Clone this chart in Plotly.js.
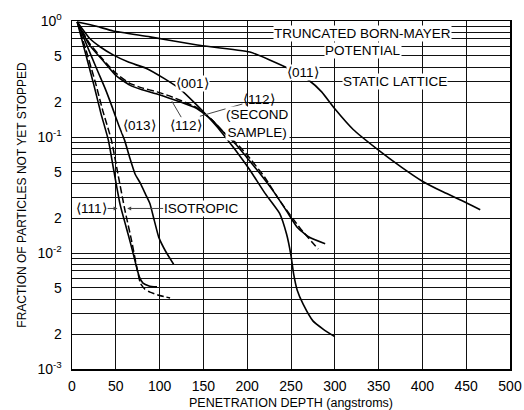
<!DOCTYPE html>
<html>
<head>
<meta charset="utf-8">
<script src="https://cdn.plot.ly/plotly-3.0.1.min.js"></script>
<style>html,body{margin:0;padding:0;background:#fff;}#chart{width:524px;height:410px;}</style>
</head>
<body>
<div id="chart"></div>
<script>
// <011>
var x011 = [6, 28, 47, 89, 143, 203, 247, 270, 285, 300, 321, 348, 376, 399, 424, 449, 466];
var y011 = [0.98, 0.9, 0.82, 0.73, 0.62, 0.54, 0.39, 0.31, 0.245, 0.175, 0.116, 0.079, 0.055, 0.042, 0.0335, 0.0274, 0.0236];
// <001>
var x001 = [6, 20, 32, 47, 65, 85, 105, 123, 142, 155, 169, 185, 203, 220, 237, 245, 250, 253, 257, 264, 275, 287, 300];
var y001 = [0.98, 0.71, 0.6, 0.51, 0.44, 0.39, 0.32, 0.26, 0.19, 0.15, 0.114, 0.08, 0.052, 0.033, 0.022, 0.0145, 0.0095, 0.0066, 0.0048, 0.0036, 0.0026, 0.0022, 0.0019];
// <112>
var x112 = [6, 20, 36, 50, 66, 80, 97, 112, 142, 160, 173, 188, 200, 215, 230, 245, 257, 270, 289];
var y112 = [0.98, 0.62, 0.45, 0.34, 0.28, 0.255, 0.235, 0.215, 0.177, 0.14, 0.11, 0.085, 0.066, 0.048, 0.034, 0.023, 0.0167, 0.0138, 0.012];
// <112> second sample
var x112b = [6, 20, 36, 50, 66, 80, 97, 112, 142, 160, 173, 188, 200, 220, 237, 260, 281];
var y112b = [0.98, 0.64, 0.46, 0.355, 0.29, 0.265, 0.245, 0.225, 0.18, 0.14, 0.11, 0.088, 0.07, 0.045, 0.0284, 0.0165, 0.0108];
// <013>
var x013 = [6, 14, 22, 30, 38, 46, 53, 60, 66, 72, 78, 84, 89, 94, 99, 107, 116];
var y013 = [0.98, 0.7, 0.5, 0.36, 0.26, 0.18, 0.128, 0.094, 0.066, 0.048, 0.04, 0.032, 0.0266, 0.019, 0.0137, 0.0103, 0.008];
// <111>
var x111 = [6, 15, 25, 33, 41.5, 48, 55, 64, 70, 74, 77, 81, 88, 97];
var y111 = [0.98, 0.54, 0.28, 0.16, 0.094, 0.05, 0.026, 0.0146, 0.0098, 0.0074, 0.0062, 0.0055, 0.0052, 0.0051];
// isotropic
var xIso = [6, 16, 27, 35, 45, 52, 60.5, 68, 74, 78, 83, 89, 100, 112];
var yIso = [0.98, 0.56, 0.29, 0.17, 0.094, 0.05, 0.0232, 0.0128, 0.0075, 0.0055, 0.0049, 0.0046, 0.0043, 0.0041];

var xTicks = [0, 50, 100, 150, 200, 250, 300, 350, 400, 450, 500];
var decades = [-3, -2, -1];
var mantissas = [1, 2, 3, 4, 5, 6, 7, 8, 9];
var supText = {"-3": "10<sup>-3</sup>", "-2": "10<sup>-2</sup>", "-1": "10<sup>-1</sup>", "0": "10<sup>0</sup>"};

var yTickVals = [], yTickText = [];
decades.forEach(function (d) {
  mantissas.forEach(function (m) {
    yTickVals.push(m * Math.pow(10, d));
    yTickText.push(m === 1 ? supText[String(d)] : (m === 2 || m === 5 ? String(m) : ""));
  });
});
yTickVals.push(1); yTickText.push(supText["0"]);

var FONT = "Liberation Sans, Arial, sans-serif";
function solid(x, y) {
  return {x: x, y: y, mode: "lines", type: "scatter", line: {color: "#000", width: 1.6, shape: "spline", smoothing: 0.45}, hoverinfo: "skip"};
}
function dashed(x, y) {
  return {x: x, y: y, mode: "lines", type: "scatter", line: {color: "#000", width: 1.5, dash: "7px,3px", shape: "spline", smoothing: 0.45}, hoverinfo: "skip"};
}
var data = [solid(x011, y011), solid(x001, y001), solid(x112, y112), dashed(x112b, y112b),
            solid(x013, y013), solid(x111, y111), dashed(xIso, yIso)];

function lab(text, x, ly, extra) {
  var a = {text: text, x: x, y: ly, xref: "x", yref: "y", showarrow: false, bgcolor: "#fff",
           font: {family: FONT, size: 13.5, color: "#000"}, borderpad: 0};
  for (var k in extra) a[k] = extra[k];
  return a;
}
var annotations = [
  lab("TRUNCATED BORN-MAYER", 332, -0.112),
  lab("POTENTIAL", 332, -0.251),
  lab("STATIC LATTICE", 369, -0.519),
  lab("\u27e8011\u27e9", 264, -0.441),
  lab("\u27e8001\u27e9", 137, -0.536),
  lab("\u27e8112\u27e9", 146, -0.821, {showarrow: true, arrowhead: 0, arrowwidth: 1, ax: 59, ay: -17, bgcolor: "rgba(255,255,255,0)"}),
  lab("(SECOND<br>SAMPLE)", 212, -0.886),
  lab("\u27e8112\u27e9", 114, -0.691, {showarrow: true, arrowhead: 0, arrowwidth: 1, ax: 14, ay: 24, bgcolor: "rgba(255,255,255,0)"}),
  lab("\u27e8013\u27e9", 76.5, -0.899),
  lab("\u27e8111\u27e9", 52, -1.616, {showarrow: true, arrowhead: 2, arrowsize: 0.8, arrowwidth: 1, ax: -26, ay: 0}),
  lab("ISOTROPIC", 63, -1.616, {showarrow: true, arrowhead: 2, arrowsize: 0.8, arrowwidth: 1, ax: 74, ay: 0}),
  {text: "FRACTION OF PARTICLES NOT YET STOPPED", xref: "paper", yref: "paper", x: -0.115, y: 0.5,
   xanchor: "center", yanchor: "middle", textangle: -90, showarrow: false,
   font: {family: FONT, size: 12, color: "#000"}},
  {text: "PENETRATION DEPTH (angstroms)", xref: "paper", yref: "paper", x: 0.5, y: -0.097,
   xanchor: "center", yanchor: "middle", showarrow: false,
   font: {family: FONT, size: 12.5, color: "#000"}}
];

var layout = {
  width: 524, height: 410,
  margin: {l: 72, r: 14, t: 21, b: 41},
  paper_bgcolor: "#fff", plot_bgcolor: "#fff",
  showlegend: false,
  font: {family: FONT, size: 14, color: "#000"},
  xaxis: {range: [0, 500], tickvals: xTicks, ticktext: xTicks.map(String),
          showgrid: true, gridcolor: "#111", gridwidth: 1, zeroline: false,
          showline: true, linecolor: "#000", linewidth: 1.5, mirror: true,
          ticks: "outside", ticklen: 4, tickcolor: "rgba(0,0,0,0)",
          tickfont: {family: FONT, size: 14, color: "#000"}, fixedrange: true},
  yaxis: {type: "log", range: [-3, 0], tickvals: yTickVals, ticktext: yTickText,
          showgrid: true, gridcolor: "#111", gridwidth: 1, zeroline: false,
          showline: true, linecolor: "#000", linewidth: 1.5, mirror: true,
          ticks: "outside", ticklen: 6, tickcolor: "rgba(0,0,0,0)",
          tickfont: {family: FONT, size: 14, color: "#000"}, fixedrange: true},
  annotations: annotations
};
Plotly.newPlot("chart", data, layout, {displayModeBar: false, staticPlot: true});
</script>
</body>
</html>
